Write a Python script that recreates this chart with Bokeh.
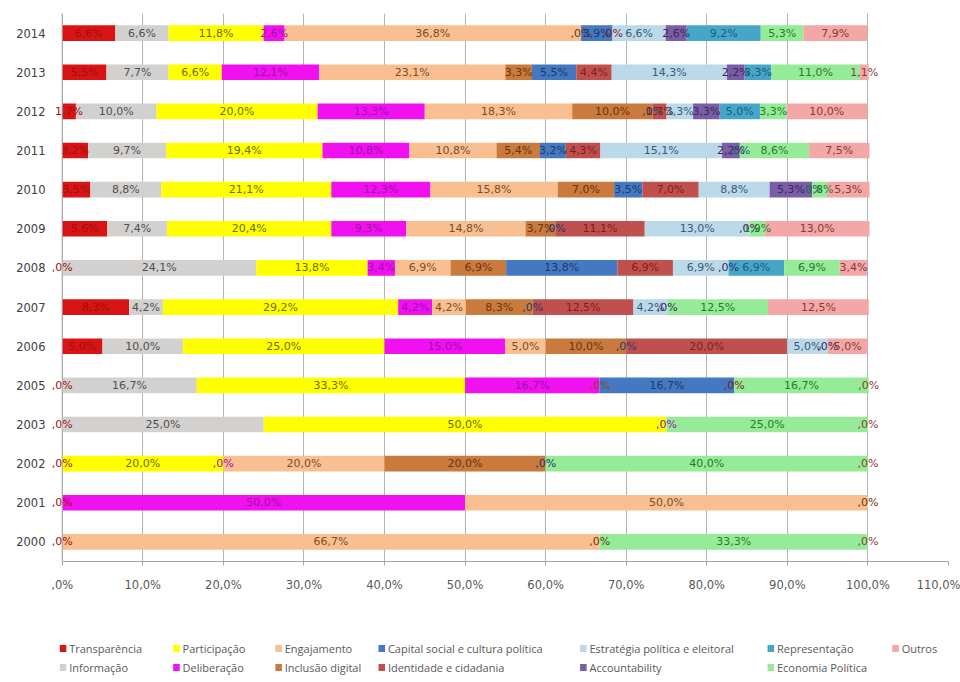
from bokeh.plotting import figure
from bokeh.models import ColumnDataSource, Range1d, FactorRange, FixedTicker, Span
from bokeh.layouts import column
from bokeh.core.properties import value
from bokeh.embed import file_html
from bokeh.resources import INLINE

# ---------------- data (percent of items per year) ----------------
years = ["2000", "2001", "2002", "2003", "2005", "2006", "2007",
         "2008", "2009", "2010", "2011", "2012", "2013", "2014"]

series_names = ["Transparência", "Informação", "Participação", "Deliberação",
                "Engajamento", "Inclusão digital", "Capital social e cultura política",
                "Identidade e cidadania", "Estratégia política e eleitoral",
                "Accountability", "Representação", "Economia Política", "Outros"]

transparencia = [0, 0, 0, 0, 0, 5.0, 8.3, 0, 5.6, 3.5, 3.2, 1.7, 5.5, 6.6]
informacao    = [0, 0, 0, 25.0, 16.7, 10.0, 4.2, 24.1, 7.4, 8.8, 9.7, 10.0, 7.7, 6.6]
participacao  = [0, 0, 20.0, 50.0, 33.3, 25.0, 29.2, 13.8, 20.4, 21.1, 19.4, 20.0, 6.6, 11.8]
deliberacao   = [0, 50.0, 0, 0, 16.7, 15.0, 4.2, 3.4, 9.3, 12.3, 10.8, 13.3, 12.1, 2.6]
engajamento   = [66.7, 50.0, 20.0, 0, 0, 5.0, 4.2, 6.9, 14.8, 15.8, 10.8, 18.3, 23.1, 36.8]
inclusao      = [0, 0, 20.0, 0, 0, 10.0, 8.3, 6.9, 3.7, 7.0, 5.4, 10.0, 3.3, 0]
capital       = [0, 0, 0, 0, 16.7, 0, 0, 13.8, 0, 3.5, 3.2, 0, 5.5, 3.9]
identidade    = [0, 0, 0, 0, 0, 20.0, 12.5, 6.9, 11.1, 7.0, 4.3, 1.7, 4.4, 0]
estrategia    = [0, 0, 0, 0, 0, 5.0, 4.2, 6.9, 13.0, 8.8, 15.1, 3.3, 14.3, 6.6]
accountab     = [0, 0, 0, 0, 0, 0, 0, 0, 0, 5.3, 2.2, 3.3, 2.2, 2.6]
representacao = [0, 0, 0, 0, 0, 0, 0, 6.9, 0, 0, 0, 5.0, 3.3, 9.2]
economia      = [33.3, 0, 40.0, 25.0, 16.7, 0, 12.5, 6.9, 1.9, 1.8, 8.6, 3.3, 11.0, 5.3]
outros        = [0, 0, 0, 0, 0, 5.0, 12.5, 3.4, 13.0, 5.3, 7.5, 10.0, 1.1, 7.9]

x_ticks = [0, 10, 20, 30, 40, 50, 60, 70, 80, 90, 100, 110]
x_tick_labels = [",0%", "10,0%", "20,0%", "30,0%", "40,0%", "50,0%", "60,0%",
                 "70,0%", "80,0%", "90,0%", "100,0%", "110,0%"]

# ---------------- styles ----------------
bar_colors = ["#D81414", "#D3D1CF", "#FFFF00", "#F010F0", "#F9BF90", "#C97A3C",
              "#4478C0", "#C0504D", "#BBD9E8", "#7A5EA5", "#45A6C8", "#95EB98", "#F3A7A6"]
label_colors = ["#A01010", "#505050", "#6E6E00", "#A010A8", "#7A4E2A", "#6A3510",
                "#1C3A70", "#7A1F1F", "#3A5A78", "#3A2660", "#1C5C7C", "#2A7A2A", "#8A3A3A"]

all_series = [transparencia, informacao, participacao, deliberacao, engajamento, inclusao,
              capital, identidade, estrategia, accountab, representacao, economia, outros]
keys = ["s%d" % i for i in range(len(all_series))]

data = {"year": years}
for k, s in zip(keys, all_series):
    data[k] = s
source = ColumnDataSource(data)

# label positions derived from cumulative sums
lx, ly, lt, lc = [], [], [], []
for j, yr in enumerate(years):
    cum = 0.0
    zero_pos = set()
    for i, s in enumerate(all_series):
        v = s[j]
        c = cum + v / 2.0
        if v == 0:
            key = round(c, 4)
            if key not in zero_pos:
                zero_pos.add(key)
                lx.append(c); ly.append(yr); lt.append(",0%"); lc.append(label_colors[i])
        else:
            lx.append(c); ly.append(yr)
            lt.append(("%.1f" % v).replace(".", ",") + "%"); lc.append(label_colors[i])
        cum += v
label_src = ColumnDataSource(dict(x=lx, y=ly, text=lt, color=lc))

FONT = "DejaVu Sans"
LEG_FONT = "Open Sans"

# ---------------- main chart ----------------
p = figure(width=960, height=608, x_range=Range1d(-1.7, 110), y_range=FactorRange(factors=years),
           output_backend="svg", toolbar_location=None,
           min_border_left=48, min_border_right=12, min_border_top=13, min_border_bottom=47)
p.outline_line_color = None
p.background_fill_color = "white"

renderers = p.hbar_stack(keys, y="year", height=0.4, color=bar_colors, line_color=None, source=source)

p.text(x="x", y="y", text="text", text_color="color", source=label_src,
       text_align="center", text_baseline="middle",
       text_font=value(FONT), text_font_size="11px")

p.add_layout(Span(location=0, dimension="height", line_color="#A6A6A6", line_width=1))

p.xaxis.ticker = FixedTicker(ticks=x_ticks)
p.xaxis.major_label_overrides = dict(zip(x_ticks, x_tick_labels))
p.xaxis.bounds = (0, 110)
p.xaxis.major_label_text_font = FONT
p.xaxis.major_label_text_font_size = "11.5px"
p.xaxis.major_label_text_color = "#595959"
p.xaxis.axis_line_color = "#A6A6A6"
p.xaxis.major_tick_line_color = "#A6A6A6"
p.xaxis.major_tick_out = 4
p.xaxis.major_tick_in = 0
p.xaxis.minor_tick_line_color = None
p.xaxis.major_label_standoff = 12

p.yaxis.major_label_text_font = FONT
p.yaxis.major_label_text_font_size = "11.5px"
p.yaxis.major_label_text_color = "#404040"
p.yaxis.axis_line_color = None
p.yaxis.major_tick_line_color = None
p.yaxis.major_tick_out = 0
p.yaxis.major_label_standoff = 3

p.xgrid.grid_line_color = "#B4B4B4"
p.ygrid.grid_line_color = None

# ---------------- legend strip (two rows, filled column by column) ----------------
LEG_H = 74
pl = figure(width=960, height=LEG_H, x_range=Range1d(0, 960), y_range=Range1d(LEG_H, 0),
            x_axis_type=None, y_axis_type=None, output_backend="svg", toolbar_location=None,
            min_border_left=0, min_border_right=0, min_border_top=0, min_border_bottom=0)
pl.outline_line_color = None
pl.xgrid.visible = False
pl.ygrid.visible = False

col_x = [12, 133, 242, 352, 567, 767, 900]   # left edge of each legend column (px)
row_y = [40, 59]                             # centre of each legend row (px)
sq_x, sq_y, tx_x, names, cols = [], [], [], [], []
for i, n in enumerate(series_names):
    cx = col_x[i // 2]
    ry = row_y[i % 2]
    sq_x.append(cx + 3.5); sq_y.append(ry); tx_x.append(cx + 10)
    names.append(n); cols.append(bar_colors[i])
leg_src = ColumnDataSource(dict(sx=sq_x, sy=sq_y, tx=tx_x, name=names, color=cols))
pl.rect(x="sx", y="sy", width=7, height=7, fill_color="color", line_color=None, source=leg_src)
pl.text(x="tx", y="sy", text="name", source=leg_src, text_align="left", text_baseline="middle",
        text_font=value(LEG_FONT), text_font_size="11px", text_color="#595959")

open("out.html", "w").write(file_html(column(p, pl), INLINE))
